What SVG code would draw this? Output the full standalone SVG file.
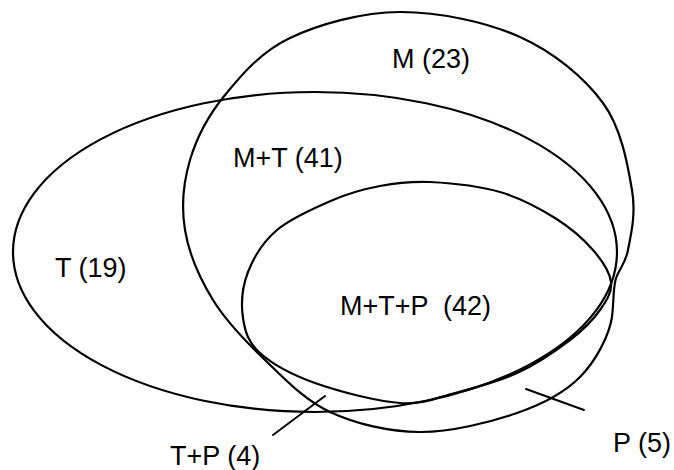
<svg xmlns="http://www.w3.org/2000/svg" width="674" height="470" viewBox="0 0 674 470">
<style>
.set{fill:none;stroke:#000;stroke-width:2.2;stroke-linejoin:round}
.lbl{font-family:"Liberation Sans",Arial,sans-serif;font-size:27px;fill:#000;white-space:pre}
.ptr{stroke:#000;stroke-width:2;fill:none;stroke-linecap:round}
</style>
<rect width="674" height="470" fill="#fff"/>
<g id="set-T">
<ellipse class="set" cx="315" cy="252" rx="302" ry="160"/>
</g>
<g id="set-M">
<path class="set" d="M400,12 C438.3,11.8 486.2,21.8 520,37 C553.8,52.2 584.3,77.5 603,103 C621.7,128.5 627.8,165.5 632,190 C636.2,214.5 630.8,235 628,250 C625.2,265 618,270 615.5,280 C613,291 614,299 612,317 C609,336 595.8,361 580,377 C564.2,393 543.7,403.8 517,413 C490.3,422.2 451.2,432.2 420,432 C388.8,431.8 355.8,424 330,412 C304.2,400 284.5,378.7 265,360 C245.5,341.3 226.3,321.7 213,300 C199.7,278.3 188.8,253.3 185,230 C181.2,206.7 183.3,182.5 190,160 C196.7,137.5 208.3,115.3 225,95 C241.7,74.7 260.8,51.8 290,38 C319.2,24.2 361.7,12.2 400,12 Z"/>
</g>
<g id="set-P">
<path class="set" d="M430,182 C450,183 479.2,186 500,192 C520.8,198 539.5,208.3 555,218 C570.5,227.7 583.7,239.3 593,250 C602.3,260.7 609.8,272 611,282 C612.2,292 606.8,300.3 600,310 C593.2,319.7 583.8,329.5 570,340 C556.2,350.5 536.2,364.2 517,373 C497.8,381.8 474.5,388 455,393 C435.5,398 423.3,404.7 400,403 C376.7,401.3 338.3,391.3 315,383 C291.7,374.7 272,363.8 260,353 C248,342.2 245,331.5 243,318 C241,304.5 242.3,286.7 248,272 C253.7,257.3 262.8,242 277,230 C291.2,218 315.8,207.3 333,200 C350.2,192.7 363.8,189 380,186 C396.2,183 410,181 430,182 Z"/>
</g>
<g id="connectors">
<line class="ptr" x1="273" y1="435" x2="325" y2="396"/>
<line class="ptr" x1="526" y1="389" x2="584" y2="410"/>
</g>
<g id="labels">
<text id="lbl-M" class="lbl" x="392" y="68">M (23)</text>
<text id="lbl-MT" class="lbl" x="233" y="167">M+T (41)</text>
<text id="lbl-T" class="lbl" x="55" y="277">T (19)</text>
<text id="lbl-MTP" class="lbl" x="340" y="315" xml:space="preserve">M+T+P  (42)</text>
<text id="lbl-TP" class="lbl" x="170" y="465">T+P (4)</text>
<text id="lbl-P" class="lbl" x="613" y="452">P (5)</text>
</g>
</svg>
